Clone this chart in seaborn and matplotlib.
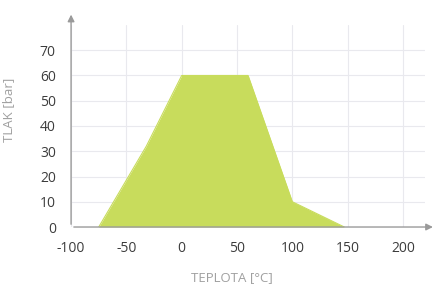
import seaborn as sns
import matplotlib.pyplot as plt

# operating range: temperature vs pressure
teplota = [-75, -32, 0, 60, 100, 147]
tlak = [0, 32, 60, 60, 10, 0]

x_ticks = [-100, -50, 0, 50, 100, 150, 200]
y_ticks = [0, 10, 20, 30, 40, 50, 60, 70]

sns.set_theme(style="whitegrid")
plt.rcParams['font.family'] = ['Open Sans', 'DejaVu Sans']
plt.rcParams['axes.unicode_minus'] = False

fig = plt.figure(figsize=(4.36, 2.87), dpi=100)
ax = fig.add_axes([0.163, 0.209, 0.812, 0.704])

green = "#c8dc5c"
ax.fill_between(teplota, tlak, color=green, linewidth=0, zorder=2)
sns.lineplot(x=teplota, y=tlak, color=green, linewidth=0.8, ax=ax, zorder=2)

ax.set_xlim(-100, 220)
ax.set_ylim(0, 80)
ax.set_xticks(x_ticks)
ax.set_yticks(y_ticks)
ax.grid(color="#e9e9ee", linewidth=0.8)
ax.set_axisbelow(True)

for s in ax.spines.values():
    s.set_visible(False)

# axis lines with arrow heads
ax.annotate("", xy=(1.03, 0), xytext=(0, 0), xycoords="axes fraction",
            arrowprops=dict(arrowstyle="-|>", color="#9a9a9a", lw=1, mutation_scale=10),
            annotation_clip=False)
ax.annotate("", xy=(0, 1.065), xytext=(0, 0), xycoords="axes fraction",
            arrowprops=dict(arrowstyle="-|>", color="#9a9a9a", lw=1, mutation_scale=10),
            annotation_clip=False)

ax.tick_params(axis="both", labelsize=10, labelcolor="#3c3c3c", length=0)
ax.tick_params(axis="x", pad=10)
ax.tick_params(axis="y", pad=11)
ax.set_xlabel("TEPLOTA [°C]", fontsize=9.5, color="#a0a0a0")
ax.set_ylabel("TLAK [bar]", fontsize=9.5, color="#a0a0a0")
ax.xaxis.set_label_coords(0.455, -0.218)
ax.yaxis.set_label_coords(-0.158, 0.58)

fig.savefig("out.png", dpi=100)
